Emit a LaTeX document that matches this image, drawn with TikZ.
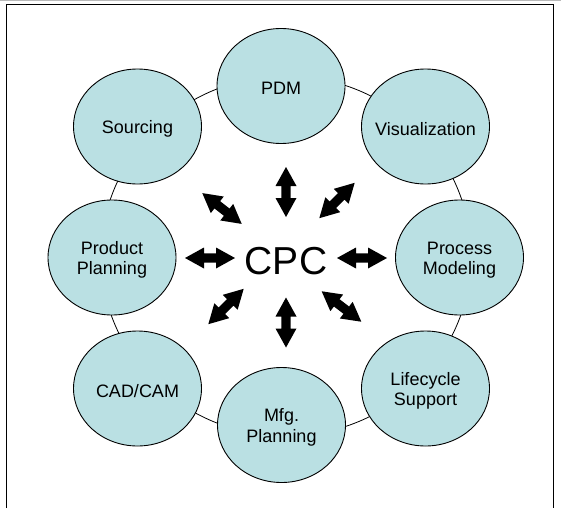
\documentclass[tikz,border=0pt]{standalone}
\usepackage{fontspec}
\setmainfont{Liberation Sans}
\usetikzlibrary{shapes.geometric}

\definecolor{bubblefill}{RGB}{186,224,227}

\tikzset{
  bubtext/.style={inner sep=0pt, align=center, yshift=-2.5pt,
    font=\fontsize{18}{20.5}\selectfont},
  bubble/.style={ellipse, draw=black, line width=0.9pt, fill=bubblefill,
    minimum width=128pt, minimum height=115pt, inner sep=0pt,
    label={[bubtext]center:#1}},
  hub/.style={inner sep=0pt, font=\fontsize{39}{39}\selectfont},
  ring/.style={draw=black, line width=0.8pt},
  frame/.style={draw=black, line width=1pt},
  dblarr/.pic={
    \fill[black] (-25,0) -- (-6,-10.5) -- (-6,-4.6) -- (6,-4.6) -- (6,-10.5)
      -- (25,0) -- (6,10.5) -- (6,4.6) -- (-6,4.6) -- (-6,10.5) -- cycle;
  }
}

\begin{document}
\begin{tikzpicture}[x=1pt, y=-1pt]
  \useasboundingbox (0,0) rectangle (561,508);

  % outer frame, open at the bottom
  \draw[gray!55, line width=1pt] (0,0.8) -- (561,0.8);
  \draw[frame] (6.5,508) -- (6.5,4.5) -- (553,4.5) -- (553,508);

  % ring linking the bubbles
  \draw[ring] (286,256) ellipse [x radius=185, y radius=180];

  % bubbles around the hub
  \node[bubble={PDM}]                (pdm)      at (281,86)      {};
  \node[bubble={Visualization}]      (vis)      at (425.5,126.5) {};
  \node[bubble={Process\\Modeling}]  (proc)     at (459.5,257.5) {};
  \node[bubble={Lifecycle\\Support}] (life)     at (425.5,388.5) {};
  \node[bubble={Mfg.\\Planning}]     (mfg)      at (281.5,425)   {};
  \node[bubble={CAD/CAM}]            (cad)      at (137.5,388.5) {};
  \node[bubble={Product\\Planning}]  (prodplan) at (112,257.5)   {};
  \node[bubble={Sourcing}]           (src)      at (137.5,126.5) {};

  % hub label
  \node[hub] (cpc) at (286,261) {CPC};

  % two-way block arrows around the hub
  \pic[rotate=90]    at (286,192)   {dblarr};
  \pic[rotate=90]    at (286,322.5) {dblarr};
  \pic               at (210,258)   {dblarr};
  \pic               at (362,258)   {dblarr};
  \pic[rotate=-38]   at (222,208.5) {dblarr};
  \pic[rotate=45]    at (337,200.5) {dblarr};
  \pic[rotate=45]    at (226,306.5) {dblarr};
  \pic[rotate=-37.5] at (341.5,306.5) {dblarr};
\end{tikzpicture}
\end{document}
